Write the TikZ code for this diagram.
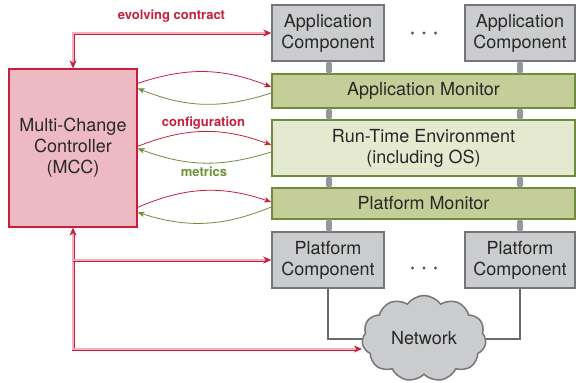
\documentclass[tikz,border=0pt]{standalone}
\usepackage{fontspec}
\setmainfont{TeX Gyre Heros}
\usetikzlibrary{arrows.meta,shapes.symbols,calc}
\definecolor{mred}{RGB}{200,30,60}
\definecolor{mpink}{RGB}{237,185,195}
\definecolor{dpink}{RGB}{242,175,188}
\definecolor{gborder}{RGB}{110,140,60}
\definecolor{gtext}{RGB}{110,145,50}
\definecolor{gfill}{RGB}{197,206,152}
\definecolor{rtefill}{RGB}{228,233,208}
\definecolor{grfill}{RGB}{203,204,206}
\definecolor{grborder}{RGB}{118,118,122}
\definecolor{barcol}{RGB}{150,150,156}
\definecolor{txt}{RGB}{40,40,40}
\begin{document}
\begin{tikzpicture}[x=1pt,y=-1pt,
  every node/.style={text=txt,font=\fontsize{18}{21}\selectfont,align=center,inner sep=0pt},
  mccbox/.style={draw=mred,fill=mpink,line width=1.3pt,minimum width=128pt,minimum height=158pt},
  compbox/.style={draw=grborder,fill=grfill,line width=1.5pt,minimum height=56pt},
  monbox/.style={draw=gborder,fill=gfill,line width=1.6pt,minimum width=303pt},
  rtebox/.style={draw=gborder,fill=rtefill,line width=1.6pt,minimum width=303pt,minimum height=56pt},
  netcloud/.style={draw=grborder,fill=grfill,line width=1.5pt,cloud,cloud puffs=11,cloud puff arc=110,cloud ignores aspect,minimum width=124pt,minimum height=86pt},
  lbl/.style={font=\fontsize{13}{15}\selectfont\bfseries},
  cfg/.style={draw=mred,line width=0.8pt,-{Stealth[length=7pt,width=5.5pt,inset=2pt]}},
  met/.style={draw=gborder,line width=0.8pt,-{Stealth[length=7pt,width=5.5pt,inset=2pt]}},
  dbl/.style={draw=mred,line width=0.7pt,double=dpink,double distance=1.6pt},
  bigtip/.tip={Stealth[length=8pt,width=7pt,inset=2.5pt]},
  bar/.style={draw=barcol,line width=5.5pt,line cap=round,shorten <=3pt,shorten >=3pt},
  netline/.style={draw=grborder!90!black,line width=1.3pt}
]
\useasboundingbox (0,0) rectangle (576,383);

\node[mccbox] (mcc) at (73,148) {Multi-Change\\Controller\\(MCC)};
\node[compbox,minimum width=112pt] (ac1) at (328,33) {Application\\Component};
\node[compbox,minimum width=110pt] (ac2) at (520,33) {Application\\Component};
\node[monbox,minimum height=34pt] (am) at (423.5,91) {Application Monitor};
\node[rtebox] (rte) at (423.5,148) {Run-Time Environment\\(including OS)};
\node[monbox,minimum height=31pt] (pm) at (423.5,203.5) {Platform Monitor};
\node[compbox,minimum width=112pt] (pc1) at (328,260) {Platform\\Component};
\node[compbox,minimum width=110pt] (pc2) at (520,260) {Platform\\Component};

\draw[netline] (pc1.south) |- (424,339);
\draw[netline] (pc2.south) |- (424,339);
\node[netcloud] (net) at (424,338.5) {Network};

% dots
\foreach \yy in {33,268}{
  \foreach \xx in {412.5,424,435.5}{
    \fill[txt!80] (\xx,\yy) circle (1.6pt);
  }
}

% gray bars between layers
\foreach \xx in {329,520}{
  \draw[bar] (\xx,61) -- (\xx,74);
  \draw[bar] (\xx,108) -- (\xx,120);
  \draw[bar] (\xx,176) -- (\xx,188);
  \draw[bar] (\xx,219) -- (\xx,232);
}

% configuration / metrics curves
\draw[cfg] ([yshift=-15pt]mcc.north east) to[bend left=20] ([yshift=4pt]am.west);
\draw[met] ([yshift=-2pt]am.west) to[bend left=20] ([yshift=-20pt]mcc.north east);
\draw[cfg] ([yshift=-78pt]mcc.north east) to[bend left=21] ([yshift=3pt]rte.west);
\draw[met] ([yshift=-4pt]rte.west) to[bend left=19] ([yshift=-80pt]mcc.north east);
\draw[cfg] ([yshift=-139pt]mcc.north east) to[bend left=21] ([yshift=1.5pt]pm.west);
\draw[met] ([yshift=-3.5pt]pm.west) to[bend left=20] ([yshift=-144pt]mcc.north east);

% double arrows
\draw[dbl,bigtip-bigtip] (mcc.north) |- (ac1.west);
\draw[dbl,bigtip-bigtip] (mcc.south) |- ([yshift=-10.5pt]net.west);
\draw[dbl,-bigtip] (mcc.south |- pc1.west) -- (pc1.west);

% labels
\node[lbl,text=mred] (l1) at (171.5,16) {evolving contract};
\node[lbl,text=mred] (l2) at (203.5,123) {configuration};
\node[lbl,text=gtext] (l3) at (204,172) {metrics};
\end{tikzpicture}
\end{document}
